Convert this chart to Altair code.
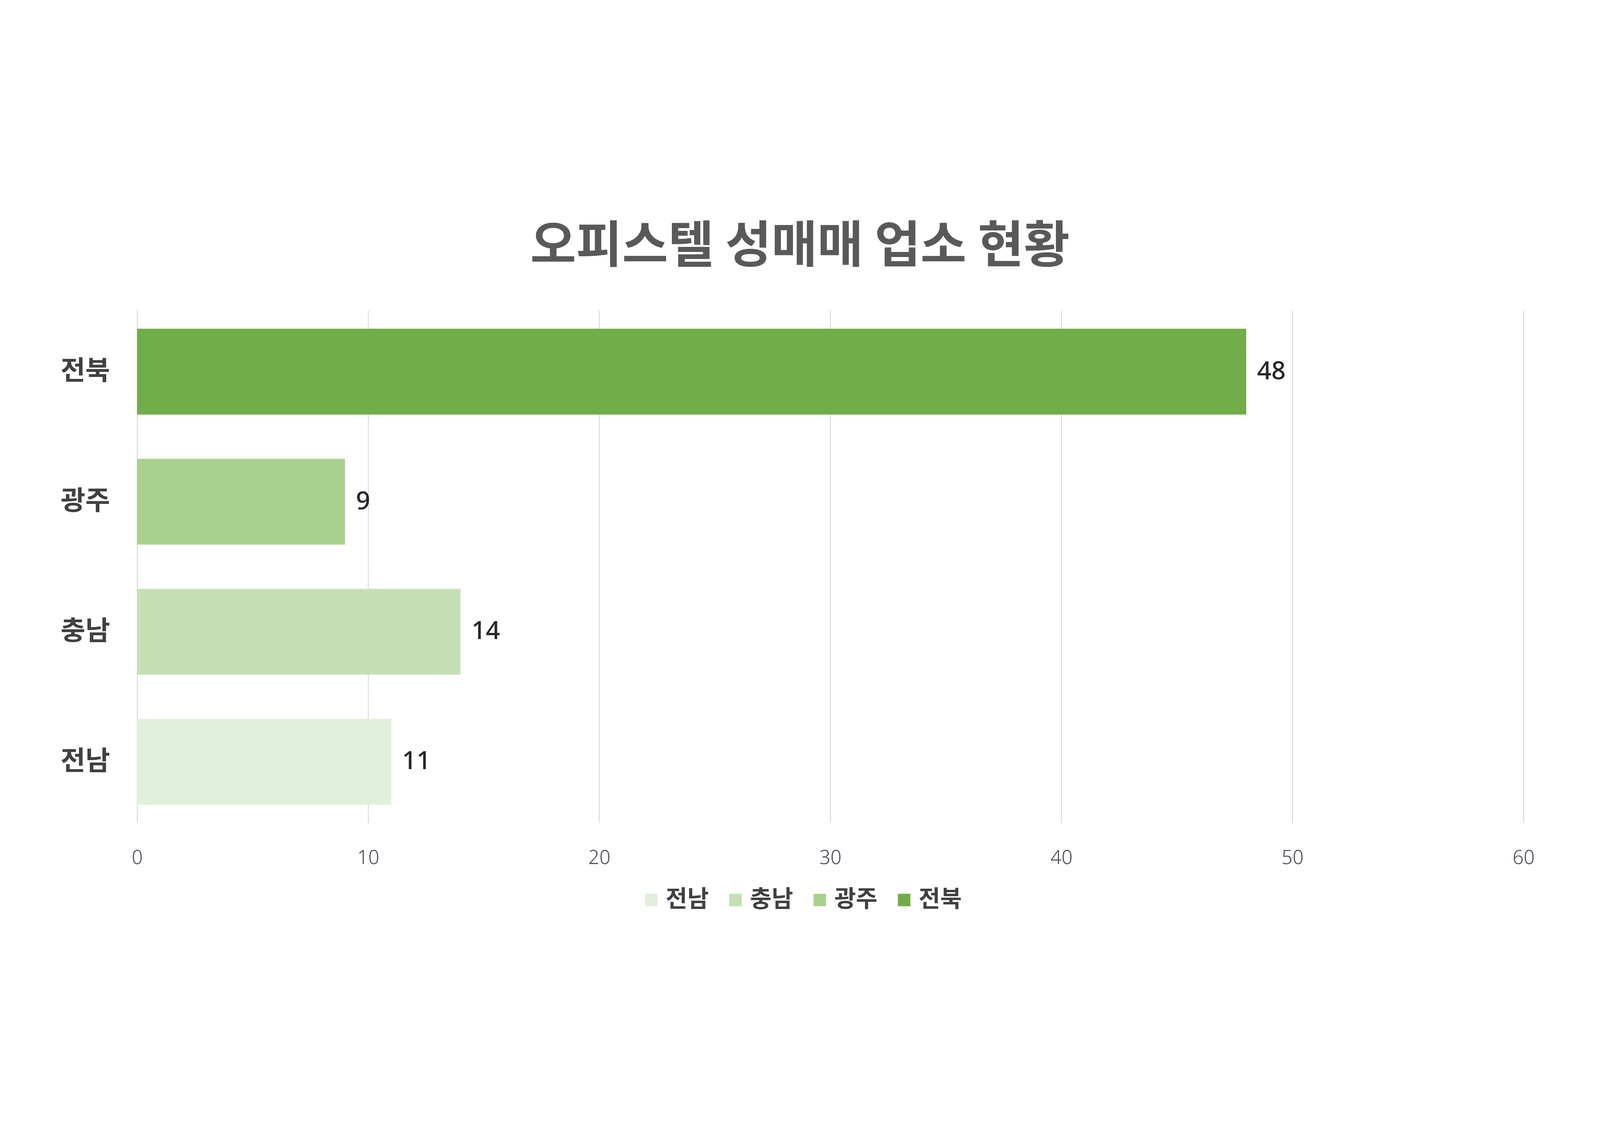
"""Horizontal bar chart: officetel business counts by region"""

import pandas as pd
import altair as alt

# data
regions = ["전북", "광주", "충남", "전남"]
counts = [48, 9, 14, 11]
legend_order = ["전남", "충남", "광주", "전북"]
bar_colors = ["#E2EFDA", "#C5E0B4", "#A9D18E", "#70AD47"]
x_ticks = [0, 10, 20, 30, 40, 50, 60]

KR_FONT = "Noto Sans CJK KR"
NUM_FONT = "Noto Sans"

df = pd.DataFrame({"region": regions, "count": counts})

base = alt.Chart(df)

y_enc = alt.Y(
    "region:N",
    sort=regions,
    title=None,
    scale=alt.Scale(paddingInner=0.34, paddingOuter=0.14),
    axis=alt.Axis(
        domain=False,
        ticks=False,
        grid=False,
        labelFont=KR_FONT,
        labelFontSize=86,
        labelFontWeight="bold",
        labelColor="#404040",
        labelPadding=87,
    ),
)

bars = base.mark_bar().encode(
    x=alt.X(
        "count:Q",
        title=None,
        scale=alt.Scale(domain=[0, 60], nice=False),
        axis=alt.Axis(
            values=x_ticks,
            format="d",
            domain=False,
            ticks=False,
            grid=True,
            gridColor="#d9d9d9",
            gridWidth=3,
            labelFlush=False,
            labelFont=NUM_FONT,
            labelFontSize=62,
            labelFontWeight=300,
            labelColor="#4a4658",
            labelPadding=82,
        ),
    ),
    y=y_enc,
    color=alt.Color(
        "region:N",
        scale=alt.Scale(domain=legend_order, range=bar_colors),
        legend=alt.Legend(
            title=None,
            orient="none",
            direction="horizontal",
            legendX=1609,
            legendY=1850,
            padding=0,
            symbolType="square",
            symbolSize=1600,
            symbolStrokeWidth=0,
            labelFont=KR_FONT,
            labelFontSize=75,
            labelFontWeight="bold",
            labelColor="#404040",
            labelOffset=9,
            columnPadding=47,
        ),
    ),
)

labels = base.mark_text(
    align="left",
    baseline="middle",
    dx=35,
    font=NUM_FONT,
    fontSize=80,
    fontWeight=500,
    color="#262626",
).encode(
    x="count:Q",
    y=alt.Y("region:N", sort=regions),
    text="count:Q",
)

# plot area pinned with padding so it lands where the reference has it
chart = (bars + labels).properties(
    width=4440,
    height=1641,
    background="white",
    padding={"left": 429, "top": 625, "right": 235, "bottom": 598},
    autosize=alt.AutoSizeParams(type="none"),
    title=alt.TitleParams(
        "오피스텔 성매매 업소 현황",
        font=KR_FONT,
        fontSize=160,
        fontWeight="bold",
        color="#595959",
        anchor="middle",
        offset=120,
        dx=-97,
    ),
).configure_view(stroke=None)

chart.save("out.html", embed_options={"renderer": "svg", "actions": False})
